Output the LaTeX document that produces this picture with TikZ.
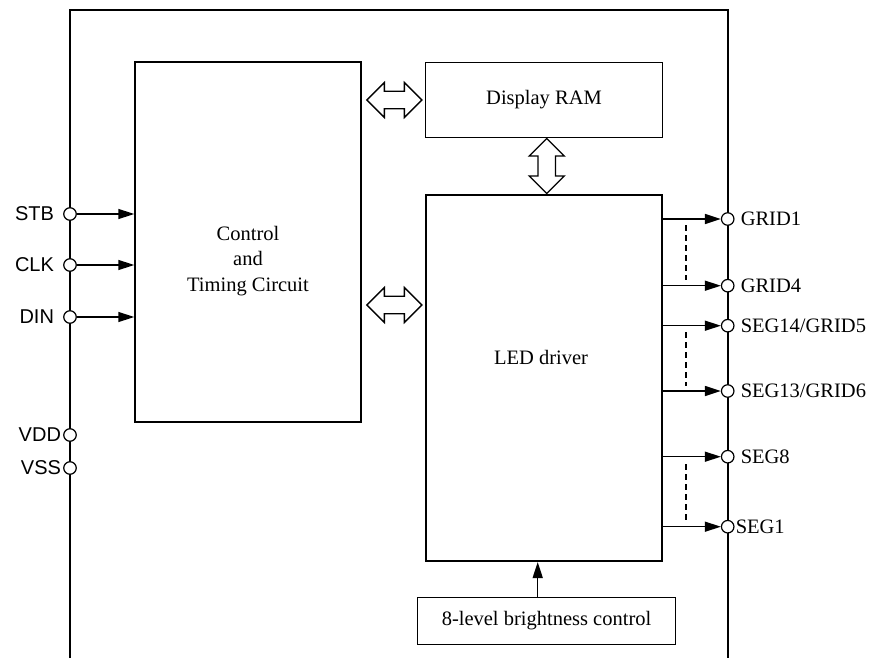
\documentclass[tikz,border=0pt]{standalone}
\usepackage{fontspec}
\setmainfont{Liberation Serif}
\newfontfamily\pinsans{Liberation Sans}
\usetikzlibrary{arrows.meta,calc}
\tikzset{
  blk/.style={draw, line width=1.5pt, inner sep=0pt},
  thickblk/.style={draw, line width=2.1pt, inner sep=0pt},
  pinc/.style={circle, draw, fill=white, line width=1.2pt, minimum size=12.5pt, inner sep=0pt},
  rtxt/.style={font=\fontsize{20.5}{24}\selectfont, inner sep=0pt, anchor=west},
  ltxt/.style={font=\pinsans\fontsize{20}{24}\selectfont, inner sep=0pt, anchor=east},
  btxt/.style={font=\fontsize{20.5}{25.5}\selectfont, inner sep=0pt, align=center},
  arr/.style={line width=1.5pt, -{Triangle[length=16pt,width=10pt]}},
  hollow/.style={draw, line width=1.3pt, fill=white, line join=miter},
  dsh/.style={line width=1.3pt, dash pattern=on 6pt off 4pt}
}
\newcommand{\hollowarrow}[2]{%
  \draw[hollow, shift={(#1)}, rotate=#2]
    (-27.5,0) -- (-10,-17.5) -- (-10,-8.7) -- (10,-8.7) -- (10,-17.5) -- (27.5,0)
    -- (10,17.5) -- (10,8.7) -- (-10,8.7) -- (-10,17.5) -- cycle;}
\begin{document}
\begin{tikzpicture}[x=1pt, y=-1pt]
\useasboundingbox (0,0) rectangle (874,658);
% outer frame
\draw[line width=1.6pt] (70,658) -- (70,10) -- (727.7,10) -- (727.7,658);
% blocks
\node[blk, minimum width=226pt, minimum height=360pt] (ctrl) at (248,242) {};
\node[btxt] (ctrltxt) at (248,261) {Control\\and\\Timing Circuit};
\node[blk, minimum width=236.6pt, minimum height=74.6pt, btxt] (ram) at (544,100) {Display RAM};
\node[thickblk, minimum width=236pt, minimum height=366pt] (led) at (544,378) {};
\node[btxt] (ledtxt) at (541,357) {LED driver};
\node[blk, minimum width=257.6pt, minimum height=47pt, btxt] (bright) at (546.5,621) {8-level brightness control};
% left pins
\node[pinc] (stb) at (70,214) {};
\node[pinc] (clk) at (70,265) {};
\node[pinc] (din) at (70,317) {};
\node[pinc] (vdd) at (70,435) {};
\node[pinc] (vss) at (70,468) {};
\node[ltxt] (stbl) at ($(stb.west)+(-9,0)$) {STB};
\node[ltxt] (clkl) at ($(clk.west)+(-9,0)$) {CLK};
\node[ltxt] (dinl) at ($(din.west)+(-9,0)$) {DIN};
\node[ltxt] (vddl) at ($(vdd.west)+(-2,0)$) {VDD};
\node[ltxt] (vssl) at ($(vss.west)+(-2,0)$) {VSS};
\draw[arr] (stb) -- (stb -| ctrl.west);
\draw[arr] (clk) -- (clk -| ctrl.west);
\draw[arr] (din) -- (din -| ctrl.west);
% right pins
\node[pinc] (g1) at (727.7,219) {};
\node[pinc] (g4) at (727.7,285.7) {};
\node[pinc] (s14) at (727.7,325.7) {};
\node[pinc] (s13) at (727.7,391) {};
\node[pinc] (s8) at (727.7,456.7) {};
\node[pinc] (s1) at (727.7,526.7) {};
\node[rtxt] (g1l) at ($(g1.east)+(6,0)$) {GRID1};
\node[rtxt] (g4l) at ($(g4.east)+(6,0)$) {GRID4};
\node[rtxt] (s14l) at ($(s14.east)+(6,0)$) {SEG14/GRID5};
\node[rtxt] (s13l) at ($(s13.east)+(6,0)$) {SEG13/GRID6};
\node[rtxt] (s8l) at ($(s8.east)+(6,0)$) {SEG8};
\node[rtxt] (s1l) at ($(s1.east)+(1,0)$) {SEG1};
\foreach \p in {g1,g4,s14,s13,s8,s1}{
  \draw[arr] (\p -| led.east) -- (\p.west);
}
% dashed continuation marks
\draw[dsh] (686,225) -- (686,280);
\draw[dsh] (686,332) -- (686,386);
\draw[dsh] (686,464) -- (686,520);
% brightness arrow
\coordinate (bin) at ($(led.south)+(-6.3,0)$);
\draw[arr] (bin |- bright.north) -- (bin);
% hollow bidirectional arrows
\coordinate (h1) at ($(ctrl.east |- ram.west)!0.5!(ram.west)+(1,0)$);
\coordinate (h2) at ($(ctrl.east |- 0,305)!0.5!(led.west |- 0,305)+(1,0)$);
\coordinate (v1) at ($(ram.south)!0.5!(led.north)+(2.7,0)$);
\hollowarrow{h1}{0}
\hollowarrow{h2}{0}
\hollowarrow{v1}{90}
\end{tikzpicture}
\end{document}
